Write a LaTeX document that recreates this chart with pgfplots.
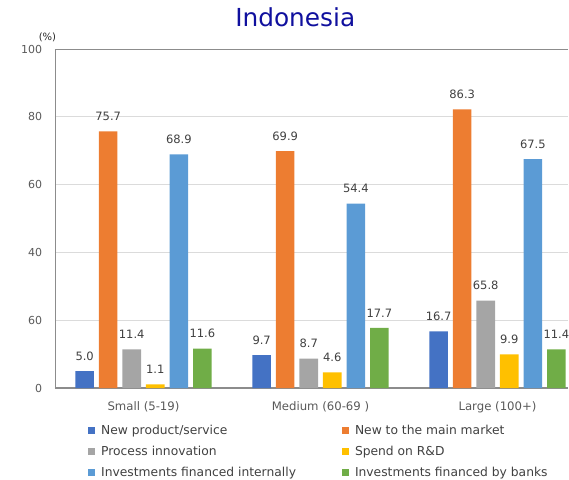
\documentclass[border=0pt]{standalone}
\usepackage{pgfplots}
\pgfplotsset{compat=1.18}
\usepackage{pgfplotstable}
\usepackage{fontspec}
\setmainfont{DejaVu Sans}
\definecolor{cA}{HTML}{4472C4}
\definecolor{cB}{HTML}{ED7D31}
\definecolor{cC}{HTML}{A5A5A5}
\definecolor{cD}{HTML}{FFC000}
\definecolor{cE}{HTML}{5B9BD5}
\definecolor{cF}{HTML}{70AD47}
\definecolor{titleblue}{HTML}{10109E}
\pgfplotstableread{
x y lab
0 5.0 5.0
1 9.7 9.7
2 16.7 16.7
}\tA
\pgfplotstableread{
x y lab
0 75.7 75.7
1 69.9 69.9
2 82.2 86.3
}\tB
\pgfplotstableread{
x y lab
0 11.4 11.4
1 8.7 8.7
2 25.8 65.8
}\tC
\pgfplotstableread{
x y lab
0 1.1 1.1
1 4.6 4.6
2 9.9 9.9
}\tD
\pgfplotstableread{
x y lab
0 68.9 68.9
1 54.4 54.4
2 67.5 67.5
}\tE
\pgfplotstableread{
x y lab
0 11.6 11.6
1 17.7 17.7
2 11.4 11.4
}\tF
\begin{document}
\begin{tikzpicture}
\begin{axis}[
  scale only axis, width=513.3pt, height=339pt,
  xmin=-0.5, xmax=2.4, ymin=0, ymax=100,
  ybar, bar width=0.105,
  clip=false,
  /pgf/number format/assume math mode=true,
  xtick={0,1,2}, xticklabels={Small (5-19),Medium (60-69 ),Large (100+)},
  ytick={0,20,40,60,80,100}, yticklabels={0,60,40,60,80,100},
  extra y ticks={100}, extra y tick labels={},
  extra y tick style={major grid style={draw=black!45, line width=0.8pt}},
  ymajorgrids, major grid style={draw=black!14, line width=0.8pt},
  axis x line*=bottom, axis y line*=left,
  x axis line style={draw=black!45, line width=1.6pt},
  y axis line style={draw=black!45, line width=0.8pt},
  major tick length=0pt,
  xticklabel style={font=\fontsize{11.7}{13}\selectfont, text=black!65, yshift=-10.5pt},
  yticklabel style={font=\fontsize{11}{13}\selectfont, text=black!65, xshift=-9.3pt},
  title={Indonesia},
  title style={at={(0.468,1)}, anchor=base, yshift=16pt, font=\fontsize{24.8}{28}\selectfont, text=titleblue},
  point meta=explicit symbolic,
  nodes near coords,
  nodes near coords style={font=\fontsize{11.5}{13}\selectfont, text=black!75, yshift=7pt},
  legend cell align=left,
  legend image code/.code={\fill[#1] (0pt,-3.5pt) rectangle (7pt,3.5pt);},
  legend style={at={(0.0643,-0.109)}, anchor=north west, draw=none, fill=none, inner sep=0pt,
    font=\fontsize{12.3}{14}\selectfont, text=black!75, legend columns=2,
    nodes={inner sep=0pt, text height=9pt, text depth=2.5pt, anchor=west},
    row sep=9.5pt,
    /tikz/every odd column/.append style={column sep=6pt},
    /tikz/every even column/.append style={column sep=46pt}},
]
\addplot[fill=cA, draw=none, bar shift=-0.3325] table[x=x,y=y,meta=lab]{\tA};
\addlegendentry{New product/service}
\addplot[fill=cB, draw=none, bar shift=-0.1995] table[x=x,y=y,meta=lab]{\tB};
\addlegendentry{New to the main market}
\addplot[fill=cC, draw=none, bar shift=-0.0665] table[x=x,y=y,meta=lab]{\tC};
\addlegendentry{Process innovation}
\addplot[fill=cD, draw=none, bar shift=0.0665] table[x=x,y=y,meta=lab]{\tD};
\addlegendentry{Spend on R\&D}
\addplot[fill=cE, draw=none, bar shift=0.1995] table[x=x,y=y,meta=lab]{\tE};
\addlegendentry{Investments financed internally}
\addplot[fill=cF, draw=none, bar shift=0.3325] table[x=x,y=y,meta=lab]{\tF};
\addlegendentry{Investments financed by banks}
\coordinate (LL) at (rel axis cs:0,0);
\node[font=\fontsize{10}{12}\selectfont, text=black!85, xshift=-7.5pt, yshift=12pt] at (rel axis cs:0,1) {(\%)};
\end{axis}
\pgfresetboundingbox
\path[use as bounding box] ([xshift=-55pt,yshift=-91pt]LL) rectangle ([xshift=514pt,yshift=388pt]LL);
\end{tikzpicture}
\end{document}
